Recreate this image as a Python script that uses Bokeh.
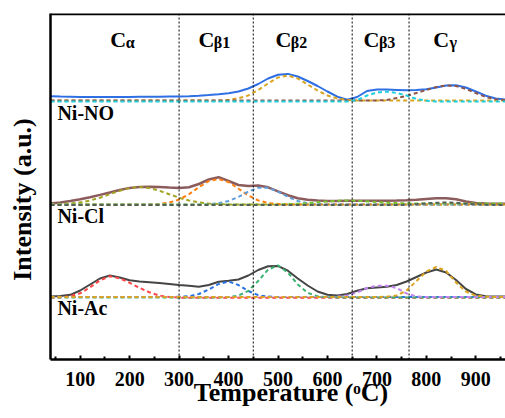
from bokeh.plotting import figure
from bokeh.models import Span, Label, FixedTicker
from bokeh.embed import file_html
from bokeh.resources import INLINE

# ---------------- data (intensity offsets above each sample's baseline, a.u.) -------------
T = [40, 60, 80, 100, 120, 140, 160, 180, 200, 220, 240, 260, 280, 300, 320, 340, 360, 380,
     400, 420, 440, 460, 480, 500, 520, 540, 560, 580, 600, 620, 640, 660, 680, 700, 720,
     740, 760, 780, 800, 820, 840, 860, 880, 900, 920, 940, 960]

no_total = [4.3, 4.0, 3.8, 3.6, 3.5, 3.4, 3.4, 3.5, 3.6, 3.7, 3.7, 3.8, 3.9, 4.0, 4.3, 4.8,
            5.5, 6.3, 7.3, 9.0, 12.0, 16.5, 22.0, 25.8, 26.6, 24.0, 19.5, 14.5, 9.0, 3.8, 0.8,
            3.5, 9.5, 11.0, 11.0, 10.6, 10.2, 10.4, 11.3, 13.0, 15.0, 15.2, 13.0, 9.0, 4.8,
            2.0, 1.0]
no_b2_T = [40, 380, 400, 420, 440, 460, 480, 500, 520, 540, 560, 580, 600, 620, 640, 660, 960]
no_b2 = [0, 0, 0.7, 2.2, 5.0, 10.5, 17.0, 23.0, 25.0, 22.0, 16.0, 10.0, 5.0, 2.0, 0.5, 0, 0]
no_b3_T = [40, 640, 660, 680, 700, 720, 740, 760, 780, 800, 820, 960]
no_b3 = [0, 0, 1.5, 6.0, 9.0, 10.0, 8.5, 6.0, 2.5, 0.8, 0, 0]
no_g_T = [40, 700, 720, 740, 760, 780, 800, 820, 840, 860, 880, 900, 920, 940, 960]
no_g = [0, 0, 0.5, 2.5, 4.5, 7.5, 10.5, 13.5, 15.0, 14.5, 11.5, 7.5, 3.5, 1.2, 0.3]

cl_total = [1.0, 2.0, 3.5, 5.2, 7.3, 9.6, 12.0, 14.5, 16.6, 17.4, 17.8, 17.6, 17.0, 16.5, 17.2,
            20.5, 25.0, 27.3, 23.5, 19.5, 18.6, 19.0, 17.2, 13.2, 9.3, 6.3, 4.8, 4.0, 3.5, 3.5,
            3.7, 3.8, 3.8, 3.8, 3.8, 3.9, 4.2, 4.8, 5.6, 6.2, 6.2, 5.2, 3.0, 1.6, 1.0, 0.8, 0.7]
cl_a_T = [40, 60, 80, 100, 120, 140, 160, 180, 200, 220, 240, 260, 280, 300, 320, 340, 360, 380,
          400, 420, 960]
cl_a = [0.1, 0.4, 1.0, 2.1, 4.0, 6.8, 10.3, 13.8, 16.5, 17.5, 16.5, 13.8, 10.3, 6.8, 4.0, 2.1,
        1.0, 0.4, 0.1, 0, 0]
cl_b1_T = [40, 240, 260, 280, 300, 320, 340, 360, 380, 400, 420, 440, 460, 480, 500, 520, 960]
cl_b1 = [0, 0, 0.6, 1.9, 4.9, 10.3, 17.3, 23.4, 25.5, 22.4, 15.8, 9.0, 4.1, 1.5, 0.5, 0.1, 0]
cl_b2_T = [40, 340, 360, 380, 400, 420, 440, 460, 480, 500, 520, 540, 560, 580, 600, 960]
cl_b2 = [0, 0, 0.3, 1.2, 3.5, 7.6, 12.9, 16.7, 16.7, 12.9, 7.6, 3.5, 1.2, 0.3, 0, 0]
cl_b3_T = [40, 500, 520, 540, 560, 580, 600, 620, 640, 660, 680, 700, 720, 740, 760, 780, 960]
cl_b3 = [0, 0, 0.4, 0.8, 1.4, 2.2, 3.1, 3.8, 4.0, 3.8, 3.1, 2.4, 1.8, 1.4, 1.2, 1.0, 1.0]
cl_g_T = [40, 740, 760, 780, 800, 820, 840, 860, 880, 900, 920, 940, 960]
cl_g = [0, 0, 0.3, 0.8, 1.5, 2.2, 2.5, 2.2, 1.4, 0.7, 0.3, 0.1, 0]

ac_total = [0.5, 1.0, 2.2, 6.5, 12.5, 18.5, 21.5, 19.5, 16.7, 15.5, 14.8, 14.0, 13.0, 12.0,
            11.3, 10.3, 12.0, 15.3, 16.3, 17.5, 21.5, 27.0, 30.8, 31.0, 26.3, 18.5, 11.5, 5.5,
            2.2, 1.5, 3.0, 6.3, 8.8, 9.5, 10.2, 12.0, 15.5, 20.0, 24.5, 27.5, 24.5, 17.0, 8.0,
            2.6, 0.8, 0.5, 0.5]
ac_a_T = [40, 60, 80, 100, 120, 140, 160, 180, 200, 220, 240, 260, 280, 300, 320, 960]
ac_a = [0, 0.3, 1.5, 4.5, 10.5, 17.5, 21.5, 19.5, 15.0, 10.0, 5.5, 2.2, 0.7, 0.2, 0, 0]
ac_b1_T = [40, 280, 300, 320, 340, 360, 380, 400, 420, 440, 460, 480, 500, 960]
ac_b1 = [0, 0, 0.2, 0.8, 3.0, 7.5, 13.0, 15.5, 12.0, 6.0, 1.8, 0.4, 0, 0]
ac_b2_T = [40, 380, 400, 420, 440, 460, 480, 500, 520, 540, 560, 580, 600, 620, 960]
ac_b2 = [0, 0, 0.3, 1.8, 6.5, 16.4, 27.8, 32.0, 24.7, 13.0, 4.6, 1.1, 0.2, 0, 0]
ac_b3_T = [40, 600, 620, 640, 660, 680, 700, 720, 740, 760, 780, 800, 960]
ac_b3 = [0, 0, 0.4, 1.5, 4.5, 9.0, 11.3, 11.3, 9.0, 3.5, 0.6, 0, 0]
ac_g_T = [40, 700, 720, 740, 760, 780, 800, 820, 840, 860, 880, 900, 920, 940, 960]
ac_g = [0, 0, 0.3, 1.5, 6.5, 16.0, 25.5, 30.0, 26.0, 14.5, 5.5, 1.3, 0.3, 0, 0]

samples = ["Ni-NO", "Ni-Cl", "Ni-Ac"]
region_bounds = [300, 450, 650, 765]
x_ticks = [100, 200, 300, 400, 500, 600, 700, 800, 900]
x_minor = [50, 150, 250, 350, 450, 550, 650, 750, 850, 950]
regions = [("C", "\u03b1"), ("C", "\u03b21"), ("C", "\u03b22"), ("C", "\u03b23"), ("C", "\u03b3")]
x_title = "Temperature (\u1d52C)"
y_title = "Intensity (a.u.)"

# ---------------- figure -------------
FONT = "Liberation Serif"
p = figure(width=505, height=418, x_range=(40, 960), y_range=(0, 346),
           output_backend="svg", toolbar_location=None,
           min_border_left=50, min_border_right=0, min_border_top=13, min_border_bottom=59)
p.xgrid.visible = False
p.ygrid.visible = False
p.outline_line_color = None
p.background_fill_color = "white"
p.border_fill_color = "white"

xa = p.xaxis[0]
xa.ticker = FixedTicker(ticks=x_ticks, minor_ticks=x_minor)
xa.axis_line_width = 2.5
xa.axis_line_color = "black"
xa.major_tick_in = 4
xa.major_tick_out = 0
xa.minor_tick_in = 3
xa.minor_tick_out = 0
xa.major_tick_line_width = 2
xa.minor_tick_line_width = 2
xa.major_label_text_font = FONT
xa.major_label_text_font_style = "bold"
xa.major_label_text_font_size = "20px"
xa.major_label_text_color = "black"
xa.major_label_standoff = 12
xa.axis_label = "\u2002\u2002" + x_title
xa.axis_label_text_font = FONT
xa.axis_label_text_font_style = "bold"
xa.axis_label_text_font_size = "26px"
xa.axis_label_text_color = "black"
xa.axis_label_standoff = -11

ya = p.yaxis[0]
ya.ticker = FixedTicker(ticks=[])
ya.axis_line_width = 2.5
ya.axis_line_color = "black"
ya.major_tick_in = 0
ya.major_tick_out = 0
ya.minor_tick_in = 0
ya.minor_tick_out = 0
ya.major_label_text_font_size = "0px"
ya.major_label_standoff = 0
ya.axis_label = y_title + "\u2002\u2002"
ya.axis_label_text_font = FONT
ya.axis_label_text_font_style = "bold"
ya.axis_label_text_font_size = "26px"
ya.axis_label_text_color = "black"
ya.axis_label_standoff = 14

p.add_layout(Span(location=345.5, dimension="width", line_color="black", line_width=2.5))

for b in region_bounds:
    p.add_layout(Span(location=b, dimension="height", line_color="black",
                      line_width=1, line_dash="2 2"))

bases = {"Ni-NO": 259, "Ni-Cl": 155, "Ni-Ac": 62.5}

def sh(vals, base, off=0.0):
    return [base + off + v for v in vals]

DASH = "4 3"
p.line(T, sh(no_total, bases["Ni-NO"]), line_color="#2f6fe4", line_width=2)
p.line(T, sh(cl_total, bases["Ni-Cl"]), line_color="#8c5c5c", line_width=2.5)
p.line(T, sh(ac_total, bases["Ni-Ac"]), line_color="#454545", line_width=2)

comps = [
    (no_b2_T, no_b2, "Ni-NO", "#d8a521", 0.0),
    (no_g_T, no_g, "Ni-NO", "#8c564b", 0.0),
    (no_b3_T, no_b3, "Ni-NO", "#1fd0dc", -1.0),
    (cl_a_T, cl_a, "Ni-Cl", "#a3a324", 0.0),
    (cl_b1_T, cl_b1, "Ni-Cl", "#ff7f0e", 0.0),
    (cl_b2_T, cl_b2, "Ni-Cl", "#5f9ddb", 0.0),
    (cl_b3_T, cl_b3, "Ni-Cl", "#7ac52c", 0.0),
    (cl_g_T, cl_g, "Ni-Cl", "#555f55", -0.5),
    (ac_a_T, ac_a, "Ni-Ac", "#ff4545", -0.8),
    (ac_b1_T, ac_b1, "Ni-Ac", "#2a72e6", 0.0),
    (ac_b2_T, ac_b2, "Ni-Ac", "#3cb371", -0.4),
    (ac_b3_T, ac_b3, "Ni-Ac", "#c184f0", 0.0),
    (ac_g_T, ac_g, "Ni-Ac", "#daa520", 0.0),
]
for tx, vy, s, col, off in comps:
    p.line(tx, sh(vy, bases[s], off), line_color=col, line_width=2, line_dash=DASH)

c_left = [161, 339, 495, 673, 814]
sub_left = [192, 370, 526, 704, 847]
for (c, sub), xl, xs in zip(regions, c_left, sub_left):
    p.add_layout(Label(x=xl, y=320, text=c, text_font=FONT, text_font_style="bold",
                       text_font_size="22px", text_align="left", text_baseline="alphabetic",
                       text_color="black"))
    p.add_layout(Label(x=xs, y=317.5, text=sub, text_font=FONT, text_font_style="bold",
                       text_font_size="16px", text_align="left", text_baseline="alphabetic",
                       text_color="black"))

lab_y = [247, 144, 52]
for s, yy in zip(samples, lab_y):
    p.add_layout(Label(x=54, y=yy, text=s, text_font=FONT, text_font_style="bold",
                       text_font_size="20px", text_align="left", text_baseline="alphabetic",
                       text_color="black"))

open("out.html", "w").write(file_html(p, INLINE))
